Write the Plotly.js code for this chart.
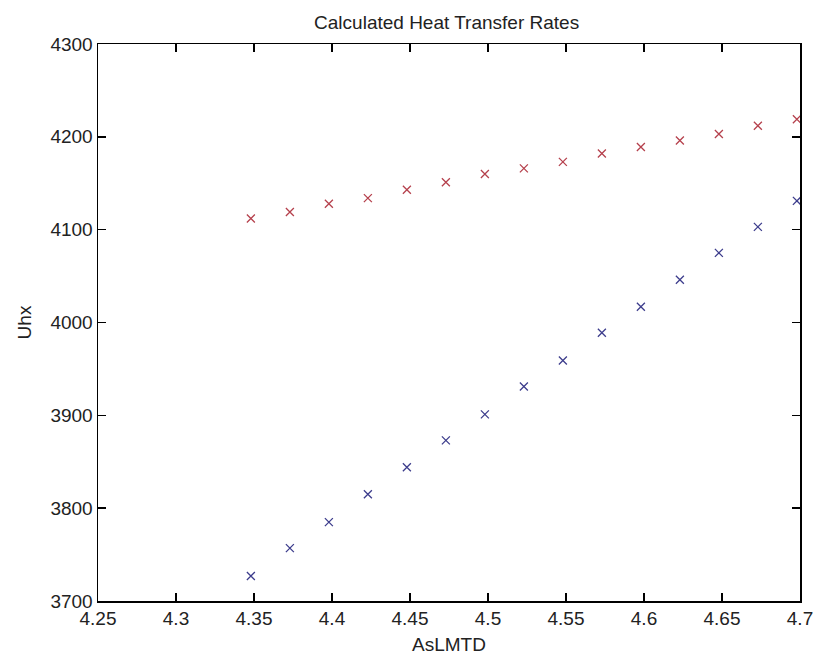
<!DOCTYPE html>
<html>
<head>
<meta charset="utf-8">
<script src="https://cdn.plot.ly/plotly-3.0.1.min.js"></script>
<style>html,body{margin:0;padding:0;background:#fff;}#chart{width:818px;height:655px;}</style>
</head>
<body>
<div id="chart"></div>
<script>
const asLMTD = [4.348, 4.373, 4.398, 4.423, 4.448, 4.473, 4.498, 4.523, 4.548, 4.573, 4.598, 4.623, 4.648, 4.673, 4.698];
const uhxRed = [4112, 4119, 4128, 4134, 4143, 4151, 4160, 4166, 4173, 4182, 4189, 4196, 4203, 4212, 4219];
const uhxBlue = [3727, 3757, 3785, 3815, 3844, 3873, 3901, 3931, 3959, 3989, 4017, 4046, 4075, 4103, 4131];

const font = {family: 'Liberation Sans, Arial, sans-serif', size: 19, color: '#222'};

const traces = [
  {x: asLMTD, y: uhxRed, mode: 'markers', type: 'scatter',
   marker: {symbol: 'x-thin-open', size: 8, color: '#b5404c', line: {width: 1.3, color: '#b5404c'}}},
  {x: asLMTD, y: uhxBlue, mode: 'markers', type: 'scatter',
   marker: {symbol: 'x-thin-open', size: 8, color: '#3c3c8c', line: {width: 1.3, color: '#3c3c8c'}}}
];

const axisCommon = {
  showgrid: false, zeroline: false, showline: true, linecolor: '#000', linewidth: 1.5,
  mirror: 'ticks', ticks: 'inside', ticklen: 8, tickwidth: 1.5, tickcolor: '#000',
  tickfont: font
};

const layout = {
  width: 818, height: 655,
  margin: {l: 98, r: 18, t: 44, b: 54},
  paper_bgcolor: '#fff', plot_bgcolor: '#fff',
  showlegend: false,
  font: font,
  title: {text: 'Calculated Heat Transfer Rates', font: font, x: 0.546, xanchor: 'center', y: 0.966, yanchor: 'middle'},
  xaxis: Object.assign({}, axisCommon, {
    range: [4.25, 4.7], dtick: 0.05, tick0: 4.25,
    title: {text: 'AsLMTD', font: font, standoff: 9}
  }),
  yaxis: Object.assign({}, axisCommon, {
    range: [3700, 4300], dtick: 100, tick0: 3700,
    title: {text: 'Uhx', font: font, standoff: 14}
  })
};

Plotly.newPlot('chart', traces, layout, {staticPlot: true, displayModeBar: false});
</script>
</body>
</html>
